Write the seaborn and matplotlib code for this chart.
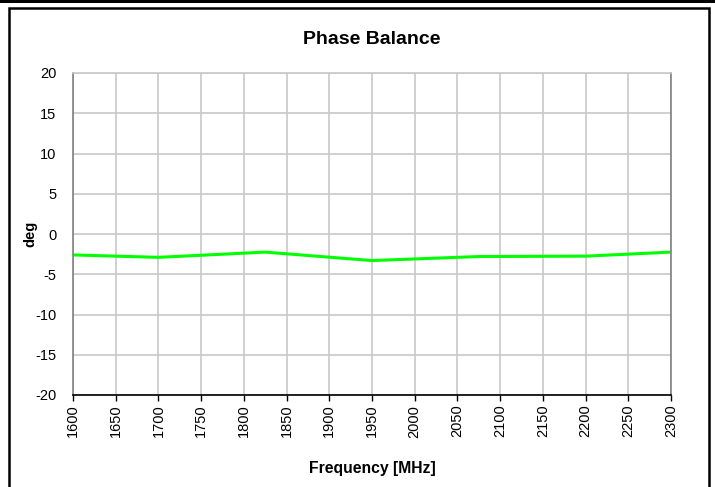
import matplotlib
matplotlib.use("Agg")
import matplotlib.pyplot as plt
import seaborn as sns
import pandas as pd
from matplotlib.patches import Rectangle

freq = [1600, 1700, 1825, 1950, 2075, 2200, 2300]
phase = [-2.6, -2.9, -2.25, -3.3, -2.8, -2.75, -2.25]
xticks = list(range(1600, 2301, 50))
yticks = list(range(-20, 21, 5))

sns.set_theme(style="white")
plt.rcParams['font.family'] = ['Liberation Sans', 'DejaVu Sans']
plt.rcParams['text.color'] = 'black'
plt.rcParams['axes.labelcolor'] = 'black'

df = pd.DataFrame({"Frequency": freq, "Phase": phase})

fig = plt.figure(figsize=(7.15, 4.87), dpi=100)
ax = fig.add_axes([73/715, 1-395/487, (671-73)/715, (395-73)/487])

sns.lineplot(data=df, x="Frequency", y="Phase", ax=ax, color="#00ff00", linewidth=2.2)

ax.set_xlim(1600, 2300)
ax.set_ylim(-20, 20)
ax.set_xticks(xticks)
ax.set_yticks(yticks)
ax.set_xticklabels([str(t) for t in xticks], rotation=90, fontsize=10.5, color="black")
ax.set_yticklabels([str(t) for t in yticks], fontsize=10.5, color="black")
ax.grid(True, color="#c8c8c8", linewidth=1.2)
ax.set_axisbelow(True)
ax.spines["top"].set_color("#c8c8c8")
ax.spines["top"].set_linewidth(1.2)
ax.spines["right"].set_color("#808080")
ax.spines["right"].set_linewidth(1.2)
ax.spines["left"].set_color("#808080")
ax.spines["bottom"].set_color("black")
ax.spines["left"].set_linewidth(1.2)
ax.spines["bottom"].set_linewidth(1.2)
ax.tick_params(axis="x", direction="out", length=4, width=1, color="black", pad=3, bottom=True)
ax.tick_params(axis="y", direction="out", length=0, pad=12, left=True)

ax.set_xlabel("Frequency [MHz]", fontsize=11.3, fontweight="bold", labelpad=17, color="black")
ax.set_ylabel("deg", fontsize=10.5, fontweight="bold", labelpad=-2, color="black")
ax.set_title("Phase Balance", fontsize=14, fontweight="bold", pad=21, color="black")

# outer frame
fig.patches.append(Rectangle((9/715, -0.1), (709-9)/715, 1.1 - 8/487, transform=fig.transFigure,
                             fill=False, edgecolor="black", linewidth=1.8, zorder=10))
fig.patches.append(Rectangle((0, 1-2.5/487), 1, 2.5/487, transform=fig.transFigure,
                             facecolor="black", edgecolor="none", zorder=10))

fig.savefig("out.png", dpi=100, facecolor="white")
